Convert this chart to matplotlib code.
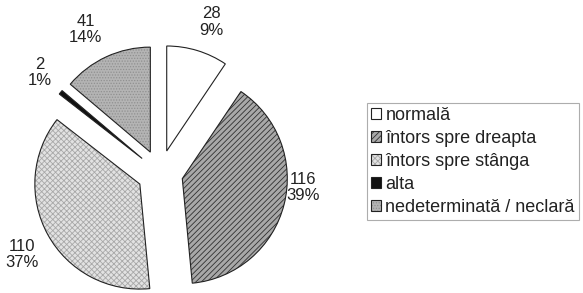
import numpy as np
import matplotlib
matplotlib.use('Agg')
import matplotlib.pyplot as plt

plt.rcParams['font.family'] = ['Liberation Sans', 'DejaVu Sans']
plt.rcParams['hatch.linewidth'] = 0.6

categories = ['normală', 'întors spre dreapta', 'întors spre stânga', 'alta',
              'nedeterminată / neclară']
counts = [28, 116, 110, 2, 41]
percents = ['9%', '39%', '37%', '1%', '14%']

faces = ['white', '#a8a8a8', '#e2e2e2', '#111111', '#b4b4b4']
hatches = [None, '//////', 'xxxxxx', None, '......']
hatch_cols = ['k', '#303030', '#a8a8a8', 'k', '#909090']
# label distance (x radius) and angle nudge (deg), per slice
label_r = [1.30, 1.15, 1.31, 1.27, 1.32]
label_dt = [-2, 10, 2, -1, 3]

fig = plt.figure(figsize=(5.83, 2.93), dpi=100)
ax = fig.add_axes([0, 0, 1, 1])

R = 105
cx, cy = 160, 120
wedges, _ = ax.pie(counts, startangle=90, counterclock=False, radius=R,
                   center=(cx, cy), explode=[23] * len(counts),
                   wedgeprops=dict(linewidth=0.8, edgecolor='#222222'))
for w, fc, h, hc in zip(wedges, faces, hatches, hatch_cols):
    w.set_facecolor(fc)
    if h:
        w.set_hatch(h)
        w._hatch_color = matplotlib.colors.to_rgba(hc)

for w, n, p, lr, dt in zip(wedges, counts, percents, label_r, label_dt):
    th = np.deg2rad((w.theta1 + w.theta2) / 2 + dt)
    x0, y0 = w.center
    ax.text(x0 + lr * R * np.cos(th), y0 + lr * R * np.sin(th), f'{n}\n{p}',
            ha='center', va='center', fontsize=12, color='#222222',
            linespacing=1.1)

ax.set_xlim(0, 583)
ax.set_ylim(0, 293)
ax.set_aspect('equal')
ax.axis('off')

leg = ax.legend(wedges, categories, loc='upper left',
                bbox_to_anchor=(367 / 583, 1 - 103 / 293), fontsize=13,
                frameon=True, fancybox=False, edgecolor='#999999',
                handlelength=0.55, handleheight=0.55, handletextpad=0.25,
                labelspacing=0.33, borderpad=0.22, borderaxespad=0)
leg.get_frame().set_linewidth(0.8)
for t in leg.get_texts():
    t.set_color('#222222')

fig.savefig('out.png', dpi=100)
